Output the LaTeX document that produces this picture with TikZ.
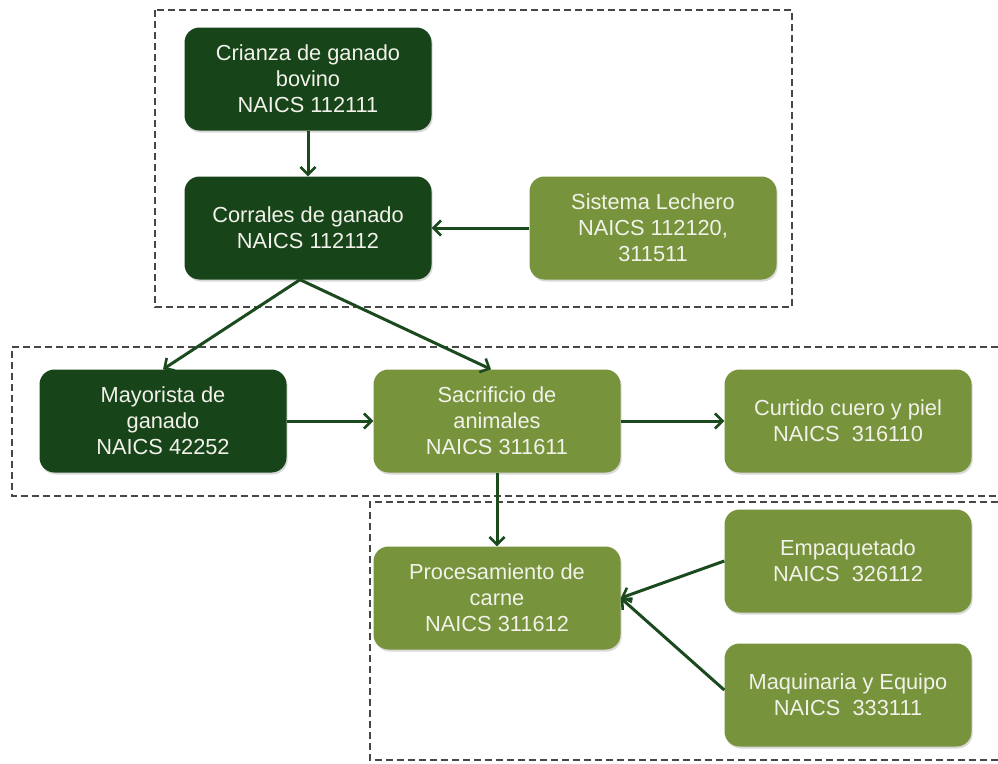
\documentclass[tikz,border=0pt]{standalone}
\usepackage{fontspec}
\setmainfont{Liberation Sans}
\usetikzlibrary{arrows.meta,shadows}
\definecolor{darkbox}{HTML}{174419}
\definecolor{lightbox}{HTML}{77933C}
\definecolor{flowline}{HTML}{1B4A1E}
\definecolor{boxtext}{HTML}{F2F2EA}
\tikzset{
  stage/.style={rounded corners=15pt, minimum width=247pt, minimum height=103pt,
    inner sep=0pt, align=center, text=boxtext,
    font=\fontsize{21.8}{26}\selectfont,
    drop shadow={shadow xshift=1.2pt, shadow yshift=-2pt, opacity=0.3}},
  darkstage/.style={stage, fill=darkbox},
  lightstage/.style={stage, fill=lightbox},
  flow/.style={draw=flowline, line width=3pt,
    -{Straight Barb[length=7.5pt, width=15pt, line width=2.6pt]}},
  group/.style={draw=black!72, line width=1.6pt, dash pattern=on 7pt off 4pt}
}
\begin{document}
\begin{tikzpicture}[x=1pt, y=-1pt]
\useasboundingbox (0,0) rectangle (998,763);

% dashed groupings of the supply chain stages
\draw[group] (155,10) rectangle (792,307);
\draw[group] (998,347) -- (12,347) -- (12,496) -- (998,496);
\draw[group] (998,502) -- (370,502) -- (370,760) -- (998,760);

% stages
\node[darkstage]  (crianza)  at (308,79)  {Crianza de ganado\\bovino\\NAICS 112111};
\node[darkstage]  (corrales) at (308,228) {Corrales de ganado\\NAICS 112112};
\node[lightstage] (lechero)  at (653,228) {Sistema Lechero\\NAICS 112120,\\311511};
\node[darkstage]  (mayorista) at (163,421) {Mayorista de\\ganado\\NAICS 42252};
\node[lightstage] (sacrificio) at (497,421) {Sacrificio de\\animales\\NAICS 311611};
\node[lightstage] (curtido)  at (848,421) {Curtido cuero y piel\\NAICS\ \ 316110};
\node[lightstage] (proceso)  at (497,598) {Procesamiento de\\carne\\NAICS 311612};
\node[lightstage] (empaque)  at (848,561) {Empaquetado\\NAICS\ \ 326112};
\node[lightstage] (maquina)  at (848,695) {Maquinaria y Equipo\\NAICS\ \ 333111};

% flows between stages
\draw[flow] (crianza.south) -- (corrales.north);
\draw[flow] (lechero.west) -- (corrales.east);
\draw[flow] ([xshift=-8pt]corrales.south) -- (mayorista.north);
\draw[flow] ([xshift=-8pt]corrales.south) -- ([xshift=-6pt]sacrificio.north);
\draw[flow] (mayorista.east) -- (sacrificio.west);
\draw[flow] (sacrificio.east) -- (curtido.west);
\draw[flow] (sacrificio.south) -- (proceso.north);
\draw[flow] (empaque.west) -- (proceso.east);
\draw[flow] ([yshift=5pt]maquina.west) -- (proceso.east);
\end{tikzpicture}
\end{document}
